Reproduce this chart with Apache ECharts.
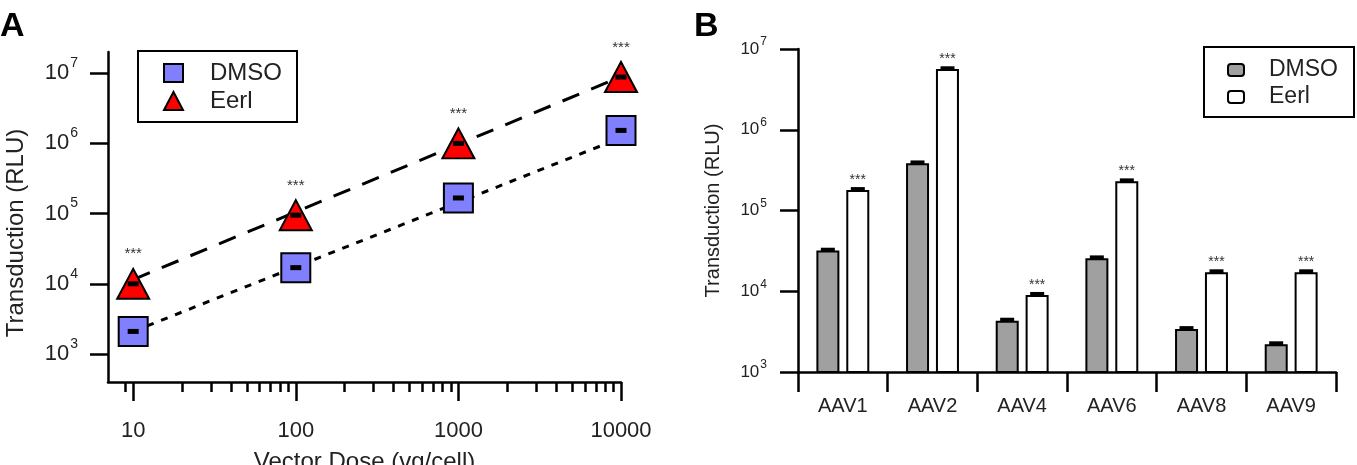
<!DOCTYPE html>
<html>
<head>
<meta charset="utf-8">
<script src="https://cdn.jsdelivr.net/npm/echarts@6/dist/echarts.min.js"></script>
<style>
  html, body { margin: 0; padding: 0; background: #fff; }
  #chart { width: 1357px; height: 465px; }
</style>
</head>
<body>
<div id="chart"></div>
<script>
  // 面板A：剂量-转导
  const doses = [10, 100, 1000, 10000]
  const doseDmso = [2.1e3, 1.7e4, 1.67e5, 1.53e6]
  const doseEerl = [1.0e4, 9.5e4, 1.0e6, 8.8e6]
  // 拟合线，只读了两端
  const fitDmso = [[10, 2.1e3], [10000, 1.2e6]]
  const fitEerl = [[10, 1.15e4], [10000, 8.9e6]]
  const doseMajorTicks = [10, 100, 1000, 10000]
  const doseMinorTicks = [9, 20, 30, 40, 50, 60, 70, 80, 90, 200, 300, 400, 500, 600, 700, 800, 900,
    2000, 3000, 4000, 5000, 6000, 7000, 8000, 9000]
  const rluTicks = [1e3, 1e4, 1e5, 1e6, 1e7]

  // 面板B：不同血清型
  const serotypes = ['AAV1', 'AAV2', 'AAV4', 'AAV6', 'AAV8', 'AAV9']
  const serDmso = [3.2e4, 3.85e5, 4.3e3, 2.56e4, 3.4e3, 2.2e3]
  const serDmsoErr = [2.6e3, 3.2e4, 4.0e2, 2.2e3, 3.0e2, 2.0e2]
  const serEerl = [1.8e5, 5.65e6, 9.0e3, 2.3e5, 1.72e4, 1.72e4]
  const serEerlErr = [1.5e4, 4.6e5, 8.0e2, 2.0e4, 1.5e3, 1.5e3]

  const font = "'Liberation Sans', Arial, sans-serif"
  const ink = '#222'
  const axisLine = { show: true, lineStyle: { color: '#000', width: 2.5 } }
  const tickStyle = { color: '#000', width: 2.5 }

  /** 10的幂标签 */
  const powLabel = (v) => '{b|10}{s|' + Math.round(Math.log10(v)) + '}'

  /** 误差线帽子 */
  const errorCap = (offset) => (params, api) => {
    const i = api.value(0)
    const base = api.coord([i, api.value(1)])
    const top = api.coord([i, api.value(1) + api.value(2)])
    return {
      type: 'rect',
      shape: { x: base[0] + offset - 7, y: top[1], width: 14, height: base[1] - top[1] + 1 },
      style: { fill: '#000' }
    }
  }

  const chart = echarts.init(document.getElementById('chart'))
  chart.setOption({
    backgroundColor: '#fff',
    animation: false,
    textStyle: { fontFamily: font },
    title: [
      { text: 'A', left: 0, top: 10, padding: 0, textStyle: { fontFamily: font, fontSize: 34, fontWeight: 'bold', color: '#000' } },
      { text: 'B', left: 694, top: 10, padding: 0, textStyle: { fontFamily: font, fontSize: 34, fontWeight: 'bold', color: '#000' } }
    ],
    legend: [
      {
        left: 138,
        top: 51,
        orient: 'vertical',
        padding: [10, 15, 9, 25],
        borderColor: '#000',
        borderWidth: 2,
        itemWidth: 19,
        itemHeight: 18,
        itemGap: 4,
        selectedMode: false,
        textStyle: { fontFamily: font, fontSize: 24, lineHeight: 24, color: ink, padding: [0, 0, 0, 22] },
        data: [
          { name: 'DMSO', icon: 'rect', itemStyle: { color: '#8080ff', borderColor: '#000', borderWidth: 2 } },
          { name: 'Eerl', icon: 'triangle', itemStyle: { color: '#ff0000', borderColor: '#000', borderWidth: 2 } }
        ]
      },
      {
        left: 1204,
        top: 47,
        orient: 'vertical',
        padding: [11, 16, 8, 23],
        borderColor: '#000',
        borderWidth: 2,
        itemWidth: 16,
        itemHeight: 12,
        itemGap: 3,
        selectedMode: false,
        textStyle: { fontFamily: font, fontSize: 23, lineHeight: 24, color: ink, padding: [0, 0, 0, 20] },
        data: [
          { name: 'DMSO', icon: 'roundRect', itemStyle: { color: '#a0a0a0', borderColor: '#000', borderWidth: 2 } },
          { name: 'Eerl', icon: 'roundRect', itemStyle: { color: '#fff', borderColor: '#000', borderWidth: 2 } }
        ]
      }
    ],
    grid: [
      { left: 108, top: 52, width: 513, height: 330, outerBoundsMode: 'none', containLabel: false },
      { left: 798, top: 49, width: 538, height: 323, outerBoundsMode: 'none', containLabel: false }
    ],
    xAxis: [
      {
        gridIndex: 0,
        type: 'log',
        min: 7,
        max: 10000,
        position: 'bottom',
        axisLine,
        axisTick: { show: true, customValues: doseMajorTicks, length: 19, lineStyle: tickStyle },
        axisLabel: { customValues: doseMajorTicks, margin: 38, fontSize: 22, color: ink, formatter: (v) => String(v) },
        splitLine: { show: false },
        name: 'Vector Dose (vg/cell)',
        nameLocation: 'middle',
        nameGap: 68,
        nameTextStyle: { fontSize: 24, color: ink }
      },
      {
        // 次刻度
        gridIndex: 0,
        type: 'log',
        min: 7,
        max: 10000,
        position: 'bottom',
        axisLine: { show: false },
        axisTick: { show: true, customValues: doseMinorTicks, length: 10, lineStyle: tickStyle },
        axisLabel: { show: false },
        splitLine: { show: false }
      },
      {
        gridIndex: 1,
        type: 'category',
        data: serotypes,
        axisLine,
        axisTick: { show: true, length: 20, interval: 0, lineStyle: tickStyle },
        axisLabel: { interval: 0, margin: 24, fontSize: 20, color: ink }
      }
    ],
    yAxis: [
      {
        gridIndex: 0,
        type: 'log',
        min: 400,
        max: 2e7,
        axisLine,
        axisTick: { show: true, customValues: rluTicks, length: 18, lineStyle: tickStyle },
        axisLabel: {
          customValues: rluTicks,
          margin: 30,
          formatter: powLabel,
          rich: {
            b: { fontFamily: font, fontSize: 22, lineHeight: 22, color: ink },
            s: { fontFamily: font, fontSize: 14, lineHeight: 14, color: ink, padding: [0, 0, 20, 1] }
          }
        },
        splitLine: { show: false },
        name: 'Transduction (RLU)',
        nameLocation: 'middle',
        nameGap: 80,
        nameRotate: 90,
        nameTextStyle: { fontSize: 24, color: ink, padding: [0, 32, 0, 0] }
      },
      {
        gridIndex: 1,
        type: 'log',
        min: 1e3,
        max: 1e7,
        axisLine,
        axisTick: { show: true, customValues: rluTicks, length: 18, lineStyle: tickStyle },
        axisLabel: {
          customValues: rluTicks,
          margin: 31,
          formatter: powLabel,
          rich: {
            b: { fontFamily: font, fontSize: 17, lineHeight: 17, color: ink },
            s: { fontFamily: font, fontSize: 12, lineHeight: 12, color: ink, padding: [0, 0, 14, 1] }
          }
        },
        splitLine: { show: false },
        name: 'Transduction (RLU)',
        nameLocation: 'middle',
        nameGap: 75,
        nameRotate: 90,
        nameTextStyle: { fontSize: 20, color: ink }
      }
    ],
    series: [
      {
        type: 'line',
        xAxisIndex: 0,
        yAxisIndex: 0,
        data: fitDmso,
        symbol: 'none',
        silent: true,
        z: 2,
        lineStyle: { color: '#000', width: 3, type: [7, 8] }
      },
      {
        type: 'line',
        xAxisIndex: 0,
        yAxisIndex: 0,
        data: fitEerl,
        symbol: 'none',
        silent: true,
        z: 2,
        lineStyle: { color: '#000', width: 3, type: [18, 13] }
      },
      {
        name: 'DMSO',
        type: 'scatter',
        xAxisIndex: 0,
        yAxisIndex: 0,
        data: doses.map((d, i) => [d, doseDmso[i]]),
        symbol: 'rect',
        symbolSize: 29,
        z: 3,
        itemStyle: { color: '#8080ff', borderColor: '#000', borderWidth: 2, opacity: 1 }
      },
      {
        name: 'Eerl',
        type: 'scatter',
        xAxisIndex: 0,
        yAxisIndex: 0,
        data: doses.map((d, i) => [d, doseEerl[i]]),
        symbol: 'triangle',
        symbolSize: [32, 30],
        z: 3,
        itemStyle: { color: '#ff0000', borderColor: '#000', borderWidth: 2, opacity: 1 },
        label: { show: true, position: 'top', distance: 6, formatter: '***', fontSize: 15, color: '#333' }
      },
      {
        // 点内的误差标记
        type: 'scatter',
        xAxisIndex: 0,
        yAxisIndex: 0,
        data: doses.map((d, i) => [d, doseDmso[i]]).concat(doses.map((d, i) => [d, doseEerl[i]])),
        symbol: 'rect',
        symbolSize: [11, 5],
        silent: true,
        z: 4,
        itemStyle: { color: '#000', opacity: 1 }
      },
      {
        name: 'DMSO',
        type: 'bar',
        xAxisIndex: 2,
        yAxisIndex: 1,
        data: serDmso,
        barWidth: 23,
        barGap: '30%',
        itemStyle: { color: '#a0a0a0', borderColor: '#000', borderWidth: 2 }
      },
      {
        name: 'Eerl',
        type: 'bar',
        xAxisIndex: 2,
        yAxisIndex: 1,
        data: serEerl,
        barWidth: 23,
        barGap: '30%',
        itemStyle: { color: '#fff', borderColor: '#000', borderWidth: 2 },
        label: { show: true, position: 'top', distance: 3, formatter: '***', fontSize: 14, color: '#333' }
      },
      {
        type: 'custom',
        xAxisIndex: 2,
        yAxisIndex: 1,
        data: serDmso.map((v, i) => [i, v, serDmsoErr[i]]),
        encode: { x: 0, y: 1 },
        renderItem: errorCap(-15),
        silent: true,
        z: 5
      },
      {
        type: 'custom',
        xAxisIndex: 2,
        yAxisIndex: 1,
        data: serEerl.map((v, i) => [i, v, serEerlErr[i]]),
        encode: { x: 0, y: 1 },
        renderItem: errorCap(15),
        silent: true,
        z: 5
      }
    ]
  })
</script>
</body>
</html>
